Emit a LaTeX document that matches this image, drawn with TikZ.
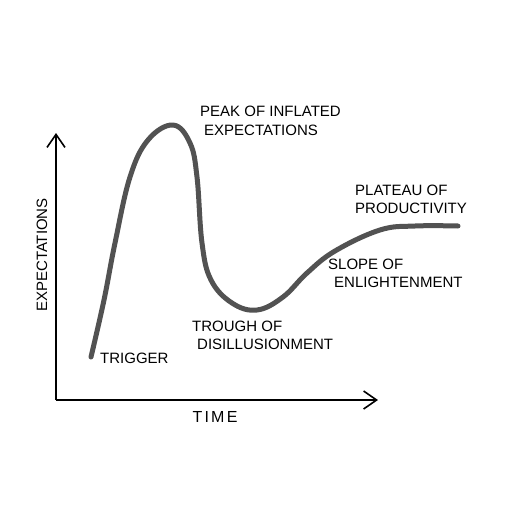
\documentclass[tikz,border=0pt]{standalone}
\usepackage{fontspec}
\setmainfont{Liberation Sans}
\newfontfamily\widefont[LetterSpace=14]{Liberation Sans}
\usetikzlibrary{arrows.meta,positioning}

\tikzset{
  axis/.style={line width=1.6pt, -{Straight Barb[length=13pt,width=18pt,line width=1.6pt]}},
  hype/.style={line width=5pt, color=black!68, line cap=round, line join=round},
  lbl/.style={font=\fontsize{15}{18}\selectfont, inner sep=0pt, align=left, anchor=west}
}

\begin{document}
\begin{tikzpicture}[x=1pt,y=-1pt]
    \useasboundingbox (0,0) rectangle (512,512);
    % Axes
    \coordinate (origin) at (56,400);
    \coordinate (ytip) at (56,133);
    \coordinate (xtip) at (378,400);
    \draw[axis] (origin) -- (ytip);
    \draw[axis] (origin) -- (xtip);
    \node[font=\fontsize{15}{18}\selectfont, rotate=90] (ylab) at (42,255) {EXPECTATIONS};
    \node[font=\widefont\fontsize{16}{18}\selectfont] (xlab) at (215,417) {TIME};

    % Hype curve
    \draw[hype] plot[smooth, tension=0.65] coordinates {
        (91,357) (104,300) (115,243) (130,177) (148,140) (173,125)
        (190,143) (197,177) (202,243) (211,280) (232,303) (257,310)
        (283,297) (307,273) (335,251) (380,230) (415,226) (458,226)};

    % Phase labels
    \node[lbl] (trigger) at (100,358) {TRIGGER};
    \node[lbl] (peak) at (200,121) {PEAK OF INFLATED\\[1pt]\hspace*{4pt}EXPECTATIONS};
    \node[lbl] (trough) at (192,335) {TROUGH OF\\\hspace*{5pt}DISILLUSIONMENT};
    \node[lbl] (slope) at (328,273) {SLOPE OF\\\hspace*{6pt}ENLIGHTENMENT};
    \node[lbl] (plateau) at (355,199) {PLATEAU OF\\PRODUCTIVITY};
\end{tikzpicture}
\end{document}
